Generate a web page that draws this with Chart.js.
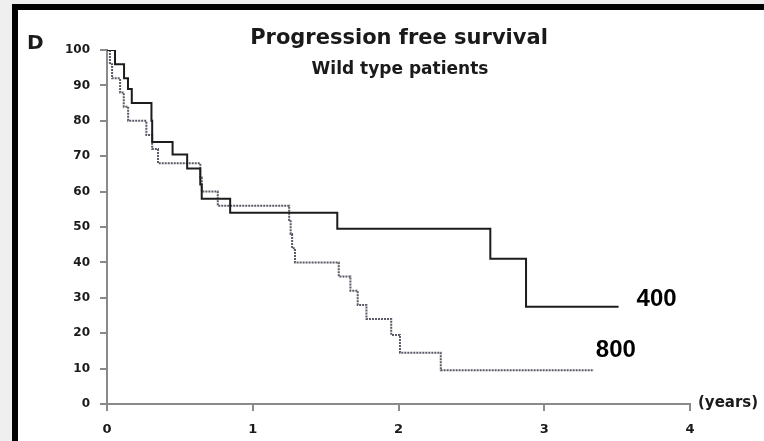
<!DOCTYPE html>
<html>
<head>
<meta charset="utf-8">
<script src="https://cdn.jsdelivr.net/npm/chart.js@4"></script>
<style>
  html, body { margin: 0; padding: 0; }
  body { width: 764px; height: 441px; background: #efefef; position: relative; overflow: hidden; }
  #frame {
    position: absolute; left: 12px; top: 4px; width: 760px; height: 435px;
    background: #fff; border-top: 6px solid #000; border-left: 6px solid #000;
  }
  #wrap { position: absolute; left: 0; top: 0; width: 764px; height: 441px; }
</style>
</head>
<body>
<div id="frame"></div>
<div id="wrap"><canvas id="pfs" width="764" height="441"></canvas></div>
<script>
// Kaplan-Meier steps, time in years, survival in %
const years400 = [0, 0.055, 0.117, 0.144, 0.17, 0.305, 0.31, 0.45, 0.55, 0.64, 0.65, 0.845, 1.58, 2.63, 2.875, 3.51];
const surv400  = [100, 96, 92, 89, 85, 80, 74, 70.5, 66.5, 62, 58, 54, 49.5, 41, 27.5, 27.5];

const years800 = [0, 0.02, 0.035, 0.09, 0.115, 0.145, 0.27, 0.31, 0.35, 0.64, 0.65, 0.76, 1.25, 1.26, 1.27, 1.29, 1.59, 1.67, 1.72, 1.78, 1.95, 2.01, 2.29, 3.34];
const surv800  = [100, 96, 92, 88, 84, 80, 76, 72, 68, 64, 60, 56, 52, 48, 44, 40, 36, 32, 28, 24, 19.5, 14.5, 9.5, 9.5];

const xTicks = [0, 1, 2, 3, 4];
const yTicks = [0, 10, 20, 30, 40, 50, 60, 70, 80, 90, 100];

const toPoints = (xs, ys) => xs.map((x, i) => ({ x: x, y: ys[i] }));

const FONT = "'DejaVu Sans', Verdana, sans-serif";
const LABEL_FONT = "'Liberation Sans', Arial, Helvetica, sans-serif";

// titles and curve labels drawn on top of the plot
const annotations = {
  id: "annotations",
  afterDraw(chart) {
    const ctx = chart.ctx;
    const xs = chart.scales.x, ys = chart.scales.y;
    ctx.save();
    ctx.fillStyle = "#1a1a1a";
    ctx.textBaseline = "middle";

    ctx.textAlign = "center";
    ctx.font = "bold 21px " + FONT;
    ctx.fillText("Progression free survival", 399, 39);
    ctx.font = "bold 17px " + FONT;
    ctx.fillText("Wild type patients", 400, 70);

    ctx.textAlign = "left";
    ctx.font = "bold 20px " + FONT;
    ctx.fillText("D", 27, 44);
    ctx.font = "bold 15px " + FONT;
    ctx.fillText("(years)", xs.right + 8, ys.bottom - 1);

    // series labels next to the curve ends
    ctx.fillStyle = "#000";
    ctx.font = "bold 24px " + LABEL_FONT;
    const e4 = years400.length - 1, e8 = years800.length - 1;
    ctx.fillText("400", xs.getPixelForValue(years400[e4]) + 18, ys.getPixelForValue(surv400[e4]) - 7);
    ctx.fillText("800", xs.getPixelForValue(years800[e8]) + 2, ys.getPixelForValue(surv800[e8]) - 20);
    ctx.restore();
  }
};

const axisGrid = {
  drawOnChartArea: false,
  drawTicks: true,
  tickLength: 7,
  color: "#8a8a8a",
  lineWidth: 2
};

new Chart(document.getElementById("pfs"), {
  type: "line",
  data: {
    datasets: [
      {
        label: "400",
        data: toPoints(years400, surv400),
        stepped: "before",
        borderColor: "#1c1c1c",
        borderWidth: 2,
        pointRadius: 0,
        fill: false
      },
      {
        label: "800",
        data: toPoints(years800, surv800),
        stepped: "before",
        borderColor: "#5a5a66",
        borderWidth: 2,
        borderDash: [2, 1],
        pointRadius: 0,
        fill: false
      }
    ]
  },
  options: {
    responsive: false,
    animation: false,
    layout: { padding: { left: 0, right: 74, top: 50, bottom: 0 } },
    plugins: { legend: { display: false }, tooltip: { enabled: false } },
    scales: {
      x: {
        type: "linear",
        min: 0,
        max: 4,
        afterBuildTicks: (s) => { s.ticks = xTicks.map((v) => ({ value: v })); },
        afterFit: (s) => { s.height = 37; },
        grid: axisGrid,
        border: { display: true, color: "#8a8a8a", width: 2 },
        ticks: {
          padding: 11,
          color: "#1a1a1a",
          font: { family: FONT, size: 13, weight: "bold" }
        }
      },
      y: {
        min: 0,
        max: 100,
        afterBuildTicks: (s) => { s.ticks = yTicks.map((v) => ({ value: v })); },
        afterFit: (s) => { s.width = 107; },
        grid: axisGrid,
        border: { display: true, color: "#8a8a8a", width: 2 },
        ticks: {
          padding: 10,
          color: "#1a1a1a",
          font: { family: FONT, size: 12, weight: "bold" }
        }
      }
    }
  },
  plugins: [annotations]
});
</script>
</body>
</html>
